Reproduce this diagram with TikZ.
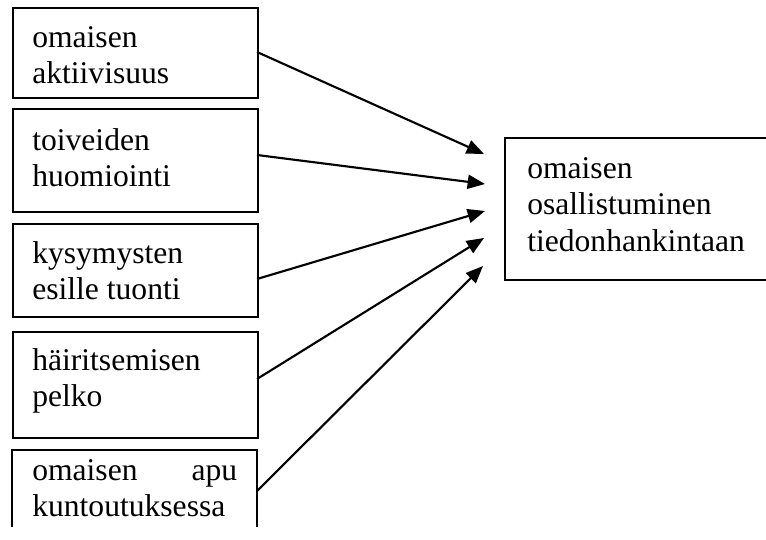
\documentclass[tikz,border=0pt]{standalone}
\usepackage{fontspec}
\setmainfont{Liberation Serif}
\usetikzlibrary{arrows.meta}
\newdimen\pxu \pxu=0.75pt
\begin{document}
\begin{tikzpicture}[x=0.75pt,y=-0.75pt,
  boxline/.style={draw=black,line width=1.5pt},
  lbox/.style={boxline,rectangle,inner sep=0pt,minimum width=245\pxu,anchor=north west},
  txt/.style={inner sep=0pt,anchor=base west,font=\fontsize{23.7}{27.4}\selectfont},
  conn/.style={line width=1.6pt,-{Triangle[length=13pt,width=10.5pt]}}]
\useasboundingbox (0,0) rectangle (766,539);
% left boxes
\node[lbox,minimum height=90\pxu] (b1) at (12,7) {};
\node[lbox,minimum height=103\pxu] (b2) at (12,108) {};
\node[lbox,minimum height=93\pxu] (b3) at (12,223) {};
\node[lbox,minimum height=106\pxu] (b4) at (12,331) {};
\draw[boxline] (12,527) -- (12,450) -- (257,450) -- (257,527);
% right box (cut off at the right edge of the picture)
\node[rectangle,inner sep=0pt,minimum width=261\pxu,minimum height=141\pxu,anchor=north west] (r) at (505,138) {};
\draw[boxline] (r.north east) -- (r.north west) -- (r.south west) -- (r.south east);
% texts
\node[txt] (t1) at (32,47) {\parbox[t]{215\pxu}{omaisen\\aktiivisuus}};
\node[txt] (t2) at (32,150) {\parbox[t]{215\pxu}{toiveiden\\huomiointi}};
\node[txt] (t3) at (32,263) {\parbox[t]{215\pxu}{kysymysten\\esille tuonti}};
\node[txt] (t4) at (32,370) {\parbox[t]{215\pxu}{häiritsemisen\\pelko}};
\node[txt] (t5) at (32,480) {\parbox[t]{205\pxu}{omaisen\hfill apu\\kuntoutuksessa}};
\node[txt] (tr) at (527,178) {\parbox[t]{230\pxu}{omaisen\\osallistuminen\\tiedonhankintaan}};
% connector start points on box edges
\coordinate (s1) at (257,52);
\coordinate (s2) at (257,155);
\coordinate (s3) at (257,279);
\coordinate (s4) at (257,379);
\coordinate (s5) at (257,491);
% arrow tips
\coordinate (e1) at (484,154);
\coordinate (e2) at (485,184);
\coordinate (e3) at (485,211);
\coordinate (e4) at (484,238);
\coordinate (e5) at (483,266);
\draw[conn] (s1) -- (e1);
\draw[conn] (s2) -- (e2);
\draw[conn] (s3) -- (e3);
\draw[conn] (s4) -- (e4);
\draw[conn] (s5) -- (e5);
\end{tikzpicture}
\end{document}
